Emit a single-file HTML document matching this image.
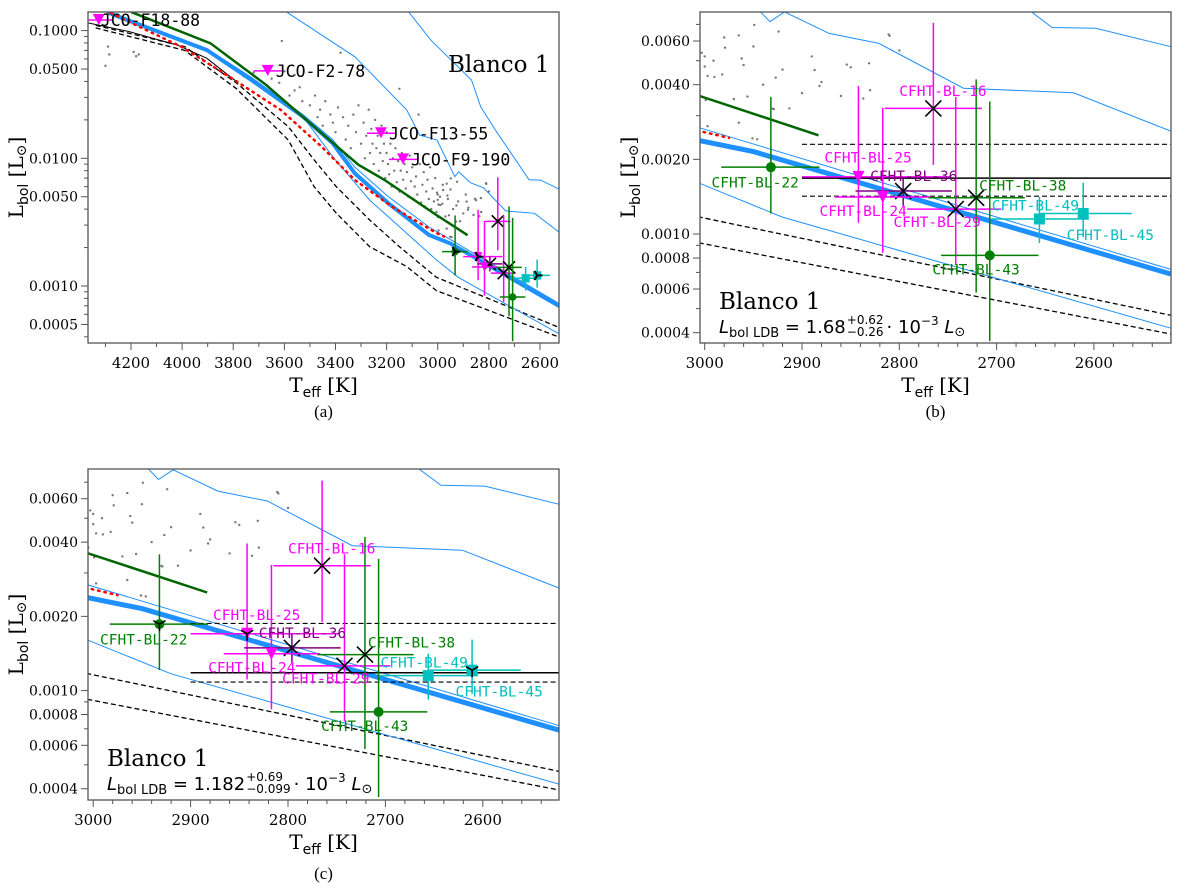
<!DOCTYPE html>
<html><head><meta charset="utf-8"><style>
html,body{margin:0;padding:0;background:#fff;}
svg{display:block;}
</style></head><body>
<svg id="fig" xmlns="http://www.w3.org/2000/svg" width="1200" height="892" viewBox="0 0 1200 892"></svg>
<script>
// ---------- DATA ----------
const thickT = [4294,3903,3729,3527,3411,3324,3193,3034,2950,2521];
const thickL = [0.139,0.0704,0.041,0.0212,0.0131,0.00762,0.00444,0.00251,0.00215,0.00069];
const compT = [4294,3903,3729,3527,3411,3324,3193,3034,2963,2521];
const compL = [0.139,0.072,0.043,0.022,0.014,0.0085,0.005,0.0029,0.00239,0.00072];
const lowBlueT = [4294,3903,3729,3527,3411,3266,3005,2920,2521];
const lowBlueL = [0.139,0.072,0.043,0.0212,0.0103,0.00471,0.0016,0.00117,0.000417];
const upBlueT = [3592,3324,3121,3071,3003,2933,2918,2872,2821,2734,2621,2521];
const upBlueL = [0.14,0.0623,0.0239,0.0152,0.0139,0.00718,0.00786,0.00644,0.00587,0.00387,0.00371,0.0026];
const rBlueT = [3114,3027,2868,2832,2774,2643,2598,2521];
const rBlueL = [0.14,0.0842,0.041,0.0253,0.0166,0.0068,0.00675,0.00569];
const dash1T = [4338,3990,3787,3585,3483,3396,3266,3150,3005,2521];
const dash1L = [0.110,0.0749,0.0388,0.0177,0.00968,0.00597,0.00329,0.00203,0.00117,0.00047];
const dash2T = [4338,3990,3787,3585,3483,3396,3266,3121,3005,2521];
const dash2L = [0.105,0.070,0.035,0.0139,0.00597,0.0037,0.00203,0.00142,0.00092,0.000395];
const blackT = [4370,4207,4019,3904,3787];
const blackL = [0.115,0.0982,0.077,0.0608,0.0398];
const greenT = [4200,3889,3671,3469,3310,3208,3005,2883];
const greenL = [0.14,0.0796,0.0375,0.0167,0.0089,0.00676,0.0036,0.0025];
const redT = [4280,4004,3816,3614,3454,3324,3179,3005,2975];
const redL = [0.137,0.0749,0.0436,0.0239,0.0123,0.00676,0.00418,0.0026,0.00244];
const dotT = [4290,4285,4300,4190,4180,4170,3760,3720,3700,3680,3650,3620,3610,3580,3560,3540,3530,3600,3560,
3500,3480,3470,3460,3450,3440,3420,3410,3400,3390,3380,3370,3360,3350,
3340,3330,3320,3310,3300,3290,3285,3280,3270,3265,3260,3255,3250,3245,3240,3235,3230,3225,3220,3215,3210,3205,3200,3200,3195,3190,3185,3180,3175,3170,3165,3160,3155,3150,3150,3145,3140,3135,3130,3125,3120,3115,3110,3105,3100,3095,3090,3085,3080,3075,3070,3065,3060,3055,3050,3045,3040,3035,3030,3025,3020,3015,3010,3005,3000,2990,2980,2970,2960,2950,2940,2930,2920,2900,2890,2880,2860,2850,2830,2810,2800,
3003,2991,2979,2965,2949,2924,2962,2982,2997,2927,2882,2956,2929,2913,2965,2997,2951,2946,2854,2831,2887,2837,2811,2999,3000];
const dotL = [0.075,0.065,0.053,0.068,0.063,0.065,0.044,0.047,0.038,0.036,0.042,0.039,0.083,0.031,0.034,0.036,0.028,0.048,0.045,
0.026,0.031,0.021,0.024,0.018,0.028,0.022,0.019,0.016,0.025,0.067,0.021,0.014,0.018,
0.012,0.022,0.016,0.026,0.013,0.019,0.010,0.015,0.024,0.011,0.017,0.013,0.009,0.020,0.012,0.015,0.008,0.011,0.018,0.0095,0.013,0.007,0.016,0.011,0.009,0.0075,0.013,0.006,0.010,0.008,0.012,0.0065,0.0095,0.0055,0.035,0.008,0.011,0.0068,0.009,0.0058,0.0078,0.005,0.0105,0.0066,0.0085,0.0048,0.006,0.0072,0.0052,0.022,0.009,0.0045,0.0062,0.0078,0.0042,0.0055,0.0068,0.0048,0.0085,0.004,0.0058,0.0046,0.007,0.0038,0.0052,0.0043,0.0062,0.0035,0.0048,0.0057,0.004,0.0032,0.0046,0.0037,0.0052,0.0041,0.0036,0.0047,0.0038,0.0063,0.0055,
0.00538,0.0050,0.00564,0.00632,0.00696,0.00655,0.0051,0.0044,0.00434,0.00427,0.00395,0.00358,0.00319,0.00321,0.00281,0.00272,0.00243,0.00241,0.00482,0.00488,0.00458,0.00352,0.00638,0.00347,0.00473];
const objName = ['CFHT-BL-16','CFHT-BL-25','CFHT-BL-36','CFHT-BL-24','CFHT-BL-29','CFHT-BL-38','CFHT-BL-22','CFHT-BL-43','CFHT-BL-49','CFHT-BL-45'];
const objT   = [2765,2842,2796,2817,2742,2721,2932,2707,2656,2611];
const objL   = [3.21e-3,1.70e-3,1.49e-3,1.41e-3,1.26e-3,1.40e-3,1.86e-3,0.82e-3,1.15e-3,1.21e-3];
const objTlo = [2715,2747,2746,2767,2695,2671,2882,2657,2605,2561];
const objThi = [2815,2900,2845,2866,2792,2770,2983,2757,2705,2655];
const objLlo = [1.9e-3,1.11e-3,1.30e-3,0.84e-3,0.75e-3,0.58e-3,1.21e-3,0.37e-3,0.92e-3,0.97e-3];
const objLhi = [7.1e-3,3.95e-3,1.70e-3,3.23e-3,3.57e-3,4.2e-3,3.57e-3,3.42e-3,1.41e-3,1.61e-3];
const objColor = ['#ff00ff','#ff00ff','#800080','#ff00ff','#ff00ff','#008000','#008000','#008000','#00bfbf','#00bfbf'];
const objMarker = ['x','tri','x','tri','x','x','circ','circ','sq','sq'];
const objBlackTri = [false,true,false,false,false,false,true,false,false,true];
const labT = [2800,2877,2830,2993,2718,2882,2705,2806,2628,2766];
const labL = [3.77e-3,2.03e-3,1.71e-3,1.61e-3,1.57e-3,1.24e-3,1.30e-3,1.12e-3,0.99e-3,0.72e-3];
const labIdx = [0,1,2,6,5,3,8,4,9,7];
const jcoName = ['JCO-F18-88','JCO-F2-78','JCO-F13-55','JCO-F9-190'];
const jcoT = [4326,3665,3222,3136];
const jcoL = [0.121,0.0484,0.0157,0.00981];
const ldbB = [1.68e-3, 2.30e-3, 1.42e-3];
const ldbC = [1.182e-3, 1.872e-3, 1.083e-3];

// ---------- DRAW ----------
const NS='http://www.w3.org/2000/svg';
const svg=document.getElementById('fig');
function mk(tag,attrs,parent){const e=document.createElementNS(NS,tag);for(const k in attrs)e.setAttribute(k,attrs[k]);(parent||svg).appendChild(e);return e;}
const SERIF='"DejaVu Serif","Liberation Serif",serif';

const panels=[
 {id:'a',x0:88,x1:559,y0:12,y1:343,tx:131,tT:4200,ts:0.2556,ly:286,ls:127.7,
  xt:[4200,4000,3800,3600,3400,3200,3000,2800,2600],xm:100,
  yt:[0.1,0.05,0.01,0.005,0.001,0.0005],ytl:['0.1000','0.0500','0.0100','0.0050','0.0010','0.0005'],cap:'(a)',capY:417,ms:0.75},
 {id:'b',x0:700,x1:1171,y0:12,y1:343,tx:704.7,tT:3000,ts:0.973,ly:234,ls:248,
  xt:[3000,2900,2800,2700,2600],xm:20,
  yt:[0.006,0.004,0.002,0.001,0.0008,0.0006,0.0004],ytl:['0.0060','0.0040','0.0020','0.0010','0.0008','0.0006','0.0004'],cap:'(b)',capY:417,ms:1,ldb:ldbB,f:'1.68',fu:'+0.62',fl:'−0.26'},
 {id:'c',x0:88,x1:559,y0:469,y1:800,tx:93.2,tT:3000,ts:0.974,ly:690.6,ls:246.6,
  xt:[3000,2900,2800,2700,2600],xm:20,
  yt:[0.006,0.004,0.002,0.001,0.0008,0.0006,0.0004],ytl:['0.0060','0.0040','0.0020','0.0010','0.0008','0.0006','0.0004'],cap:'(c)',capY:879,ms:1,ldb:ldbC,f:'1.182',fu:'+0.69',fl:'−0.099'}
];

panels.forEach(P=>{
 const X=T=>P.tx+(P.tT-T)*P.ts;
 const Y=L=>P.ly-P.ls*Math.log10(L/0.001);
 const g=mk('g',{});
 
 
 const cp=mk('clipPath',{id:'clip'+P.id},g);
 mk('rect',{x:P.x0,y:P.y0,width:P.x1-P.x0,height:P.y1-P.y0},cp);
 const plot=mk('g',{'clip-path':'url(#clip'+P.id+')'},g);
 
 
 const line=(Ts,Ls,st,name)=>{const p=mk('polyline',Object.assign({points:Ts.map((t,i)=>X(t).toFixed(1)+','+Y(Ls[i]).toFixed(1)).join(' '),fill:'none'},st),plot);
   return p;};
 const dg=mk('g',{fill:'#777'},plot);
 
 
 dotT.forEach((t,i)=>{mk('circle',{cx:X(t).toFixed(1),cy:Y(dotL[i]).toFixed(1),r:1.2},dg);});
 line(rBlueT,rBlueL,{stroke:'#1e90ff','stroke-width':1},'isochrone-right');
 line(upBlueT,upBlueL,{stroke:'#1e90ff','stroke-width':1},'isochrone-upper');
 line(dash1T,dash1L,{stroke:'#000','stroke-width':1.3,'stroke-dasharray':'5,3'},'dashed-model-1');
 line(dash2T,dash2L,{stroke:'#000','stroke-width':1.3,'stroke-dasharray':'5,3'},'dashed-model-2');
 line(blackT,blackL,{stroke:'#000','stroke-width':1},'black-model');
 line(lowBlueT,lowBlueL,{stroke:'#1e90ff','stroke-width':1},'isochrone-lower');
 line(thickT,thickL,{stroke:'#1e90ff','stroke-width':P.id==='a'?4:5},'isochrone-main');
 line(compT,compL,{stroke:'#1e90ff','stroke-width':1},'isochrone-companion');
 line(greenT,greenL,{stroke:'#006400','stroke-width':2.5},'green-model');
 line(redT,redL,{stroke:'#ff0000','stroke-width':2.5,'stroke-dasharray':'1.5,5','stroke-linecap':'round'},'red-dotted-model');
 if(P.ldb){
  const x0=X(2900);
  [[P.ldb[1],'5,3','ldb-upper'],[P.ldb[0],null,'ldb-line'],[P.ldb[2],'5,3','ldb-lower']].forEach(d=>{
   const l=mk('line',{x1:x0,x2:P.x1,y1:Y(d[0]),y2:Y(d[0]),stroke:'#000','stroke-width':d[1]?1.1:1.5},plot);
   if(d[1])l.setAttribute('stroke-dasharray',d[1]);
   
  });
 }
 if(P.id==='a'){
  jcoT.forEach((t,i)=>{
   const x=X(t),y=Y(jcoL[i]);
   const jg=mk('g',{},plot);
   
   
   mk('line',{x1:x-14,x2:x+14,y1:y,y2:y,stroke:'#ff00ff','stroke-width':1.5},jg);
   mk('polygon',{points:`${x-6},${y-6} ${x+6},${y-6} ${x},${y+5}`,fill:'#ff00ff'},jg);
  });
 }
 const ms=P.ms;
 objT.forEach((t,i)=>{
  const x=X(t),y=Y(objL[i]),c=objColor[i];
  const og=mk('g',{},plot);
  
  
  mk('line',{x1:X(objThi[i]),x2:X(objTlo[i]),y1:y,y2:y,stroke:c,'stroke-width':1.5},og);
  mk('line',{x1:x,x2:x,y1:Y(objLhi[i]),y2:Y(objLlo[i]),stroke:c,'stroke-width':1.5},og);
  const m=objMarker[i],s=6*ms;
  if(m==='circ')mk('circle',{cx:x,cy:y,r:5*ms,fill:c},og);
  if(m==='sq')mk('rect',{x:x-5.5*ms,y:y-5.5*ms,width:11*ms,height:11*ms,fill:c},og);
  if(m==='tri')mk('polygon',{points:`${x-s},${y-s} ${x+s},${y-s} ${x},${y+s}`,fill:c},og);
  if(m==='x'){mk('path',{d:`M${x-8*ms},${y-8*ms}L${x+8*ms},${y+8*ms}M${x-8*ms},${y+8*ms}L${x+8*ms},${y-8*ms}`,stroke:'#000','stroke-width':1.6},og);}
  if(objBlackTri[i] && P.id!=='b'){
   const r=7*ms;
   if(P.id==='a')mk('path',{d:`M${x},${y}L${x+r},${y}M${x},${y}L${x-r*0.5},${y-r*0.87}M${x},${y}L${x-r*0.5},${y+r*0.87}`,stroke:'#000','stroke-width':2},og);
   else mk('path',{d:`M${x},${y}L${x},${y+r}M${x},${y}L${x-r*0.87},${y-r*0.5}M${x},${y}L${x+r*0.87},${y-r*0.5}`,stroke:'#000','stroke-width':1.6},og);
  }
 });
 if(P.id==='a'){
  jcoName.forEach((n,i)=>{const tx=mk('text',{x:X(jcoT[i])+(i===0?2:8),y:Y(jcoL[i])+6,'font-family':'"DejaVu Sans Mono","Liberation Mono",monospace','font-size':16.5,fill:'#000'},g);
   tx.textContent=n;});
  const bl=mk('text',{x:448,y:72,'font-family':SERIF,'font-size':23,fill:'#000'},g);
  bl.textContent='Blanco 1';
 } else {
  labIdx.forEach((oi,k)=>{
   const tx=mk('text',{x:X(labT[k]),y:Y(labL[k])+5,'font-family':'"DejaVu Sans Mono","Liberation Mono",monospace','font-size':14.5,fill:objColor[oi]},g);
   tx.textContent=objName[oi];
   
   
  });
  const bx=P.x0+19, by=P.y1-34;
  const bl=mk('text',{x:bx,y:by,'font-family':SERIF,'font-size':23,fill:'#000'},g);
  bl.textContent='Blanco 1';
  const fy=P.y1-10;
  const ft=mk('text',{x:bx,y:fy,'font-family':'"DejaVu Sans","Liberation Sans",sans-serif','font-size':18,fill:'#000'},g);
  
  ft.innerHTML=`<tspan font-style="italic">L</tspan><tspan font-size="13" dy="4">bol LDB</tspan><tspan dy="-4"> = ${P.f}</tspan>`;
  const w=ft.getComputedTextLength();
  const sx=bx+w+1;
  const su=mk('text',{x:sx,y:fy-9,'font-family':'"DejaVu Sans",sans-serif','font-size':12},g);su.textContent=P.fu;
  const sl=mk('text',{x:sx,y:fy+3,'font-family':'"DejaVu Sans",sans-serif','font-size':12},g);sl.textContent=P.fl;
  const sw=Math.max(su.getComputedTextLength(),sl.getComputedTextLength());
  const rest=mk('text',{x:sx+sw+3,y:fy,'font-family':'"DejaVu Sans",sans-serif','font-size':18},g);
  rest.innerHTML=`· 10<tspan font-size="12" dy="-8">−3</tspan><tspan dy="8"> </tspan><tspan font-style="italic">L</tspan><tspan font-size="13" dy="3">⊙</tspan>`;
 }
 const fr=mk('rect',{x:P.x0,y:P.y0,width:P.x1-P.x0,height:P.y1-P.y0,fill:'none',stroke:'#555','stroke-width':1.3},g);
 
 const xa=mk('g',{},g);
 const tmin=P.tT-(P.x1-P.tx)/P.ts, tmax=P.tT+(P.tx-P.x0)/P.ts;
 for(let t=Math.ceil(tmin/P.xm)*P.xm;t<=tmax;t+=P.xm){
  const x=X(t),maj=P.xt.includes(t);
  mk('line',{x1:x,x2:x,y1:P.y1,y2:P.y1+(maj?7:4),stroke:'#555','stroke-width':1},xa);
 }
 P.xt.forEach(t=>{const tx=mk('text',{x:X(t),y:P.y1+25,'text-anchor':'middle','font-family':SERIF,'font-size':15},xa);tx.textContent=t;});
 const xl=mk('text',{x:(P.x0+P.x1)/2,y:P.y1+49,'text-anchor':'middle','font-family':SERIF,'font-size':20},xa);
 xl.innerHTML='T<tspan font-family="DejaVu Sans,sans-serif" font-size="14" dy="5">eff</tspan><tspan dy="-5"> [K]</tspan>';
 
 const ya=mk('g',{},g);
 for(let d=-4;d<=0;d++){for(let k=1;k<=9;k++){const L=k*Math.pow(10,d);const y=Y(L);if(y<P.y0-0.5||y>P.y1+0.5)continue;
  const maj=P.yt.some(v=>Math.abs(v-L)/L<1e-6);
  mk('line',{x1:P.x0,x2:P.x0-(maj?7:4),y1:y,y2:y,stroke:'#555','stroke-width':1},ya);}}
 P.yt.forEach((v,i)=>{const tx=mk('text',{x:P.x0-10,y:Y(v)+5,'text-anchor':'end','font-family':SERIF,'font-size':14},ya);tx.textContent=P.ytl[i];});
 const cy=(P.y0+P.y1)/2;
 const yl=mk('text',{x:0,y:0,'text-anchor':'middle','font-family':SERIF,'font-size':20,transform:`translate(${P.x0-65},${cy}) rotate(-90)`},ya);
 yl.innerHTML='L<tspan font-family="DejaVu Sans,sans-serif" font-size="14" dy="5">bol</tspan><tspan dy="-5"> [L</tspan><tspan font-size="14" dy="3">⊙</tspan><tspan dy="-3">]</tspan>';
 
 const cap=mk('text',{x:(P.x0+P.x1)/2,y:P.capY,'text-anchor':'middle','font-family':'"Liberation Serif",serif','font-size':17},g);
 cap.textContent=P.cap;
});
</script>
</body></html>
